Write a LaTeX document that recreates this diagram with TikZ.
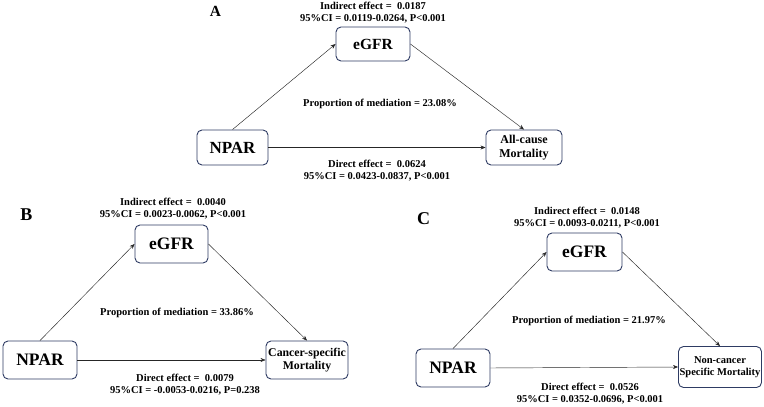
\documentclass[tikz,border=0pt]{standalone}
\usepackage{fontspec}
\setmainfont{Liberation Serif}
\usepackage{xcolor}
\usetikzlibrary{arrows.meta,positioning}
\definecolor{boxnavy}{HTML}{2E3B63}

\begin{document}
\begin{tikzpicture}[
  x=1pt, y=-1pt,
  font=\bfseries,
  box/.style={draw=boxnavy, rounded corners=5pt, line width=0.9pt, align=center, inner sep=1pt, fill=white},
  big/.style={font=\fontsize{17.5}{19}\selectfont\bfseries},
  note/.style={align=center, font=\fontsize{10.5}{12.2}\selectfont\bfseries},
  panel/.style={font=\fontsize{18}{20}\selectfont\bfseries},
  arr/.style={-{Stealth[length=5pt,width=4pt]}, line width=0.45pt, black!85},
]
\useasboundingbox (0,0) rectangle (764,407);
% panel A
\node[panel, font=\fontsize{15.5}{17}\selectfont\bfseries] (labA) at (215.5,11) {A};
\node[box, font=\fontsize{15.5}{17}\selectfont\bfseries, minimum width=74pt, minimum height=34pt] (egfrA) at (373,44) {eGFR};
\node[box, font=\fontsize{17}{19}\selectfont\bfseries, minimum width=71pt, minimum height=35pt] (npA) at (232.5,147.5) {NPAR};
\node[box, font=\fontsize{12}{13.5}\selectfont\bfseries, minimum width=76pt, minimum height=35pt] (mortA) at (524,147.5) {All-cause\\Mortality};
\node[note] (indA) at (373,13) {Indirect effect =\ \ 0.0187\\95\%CI = 0.0119-0.0264, P<0.001};
\node[note] (propA) at (380,104) {Proportion of mediation = 23.08\%};
\node[note] (dirA) at (377,170.5) {Direct effect =\ \ 0.0624\\95\%CI = 0.0423-0.0837, P<0.001};
\draw[arr] (npA.north) -- (egfrA.west);
\draw[arr] (egfrA.east) -- (mortA.north);
\draw[arr] (npA.east) -- (mortA.west);
% panel B
\node[panel] (labB) at (26.5,215) {B};
\node[box, big, minimum width=73pt, minimum height=38pt] (egfrB) at (171.5,244) {eGFR};
\node[box, big, minimum width=74pt, minimum height=38pt] (npB) at (40,360) {NPAR};
\node[box, font=\fontsize{11.8}{13.5}\selectfont\bfseries, minimum width=82pt, minimum height=38pt] (mortB) at (307,360) {Cancer-specific\\Mortality};
\node[note] (indB) at (173,209) {Indirect effect =\ \ 0.0040\\95\%CI = 0.0023-0.0062, P<0.001};
\node[note] (propB) at (177,313) {Proportion of mediation = 33.86\%};
\node[note] (dirB) at (185,385) {Direct effect =\ \ 0.0079\\95\%CI = -0.0053-0.0216, P=0.238};
\draw[arr] (npB.north) -- (egfrB.west);
\draw[arr] (egfrB.east) -- (mortB.north);
\draw[arr] (npB.east) -- (mortB.west);
% panel C
\node[panel] (labC) at (423.5,218.5) {C};
\node[box, big, minimum width=75pt, minimum height=38pt] (egfrC) at (584.5,252) {eGFR};
\node[box, big, minimum width=74pt, minimum height=38pt] (npC) at (453,368) {NPAR};
\node[box, font=\fontsize{10.5}{12.5}\selectfont\bfseries, minimum width=83pt, minimum height=41pt] (mortC) at (720,367) {Non-cancer\\Specific Mortality};
\node[note] (indC) at (587,218) {Indirect effect =\ \ 0.0148\\95\%CI = 0.0093-0.0211, P<0.001};
\node[note] (propC) at (589,321) {Proportion of mediation = 21.97\%};
\node[note] (dirC) at (590,394) {Direct effect =\ \ 0.0526\\95\%CI = 0.0352-0.0696, P<0.001};
\draw[arr] (npC.north) -- (egfrC.west);
\draw[arr] (egfrC.east) -- (mortC.north);
\draw[arr] (npC.east) -- (mortC.west);
\end{tikzpicture}
\end{document}
